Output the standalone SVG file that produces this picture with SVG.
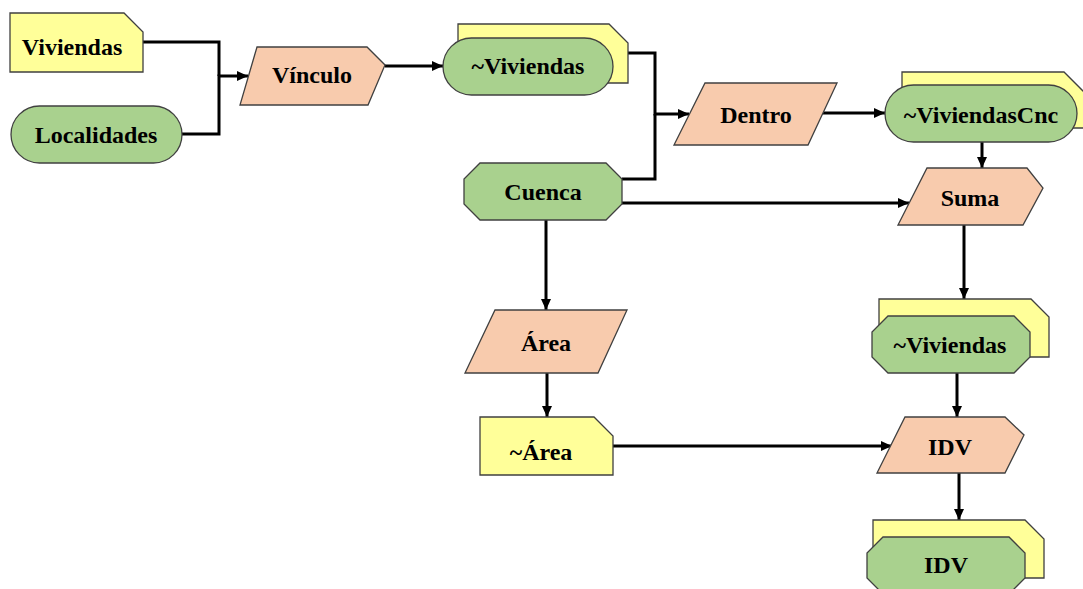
<svg xmlns="http://www.w3.org/2000/svg" width="1083" height="589" viewBox="0 0 1083 589">
  <style>
    .note { fill: #FFFF99; stroke: #404040; stroke-width: 1.3; }
    .data { fill: #A9D18E; stroke: #404040; stroke-width: 1.3; }
    .proc { fill: #F8CBAD; stroke: #404040; stroke-width: 1.3; }
    .lbl { font-family: "Liberation Serif", "Times New Roman", serif; font-weight: bold; font-size: 24px; fill: #000; text-anchor: middle; }
    .wire { fill: none; stroke: #000; stroke-width: 3; }
  </style>
  <defs>
    <marker id="arrow" markerUnits="userSpaceOnUse" markerWidth="11" markerHeight="10" refX="11" refY="5" orient="auto">
      <path d="M0,0 L11,5 L0,10 z" fill="#000"/>
    </marker>
  </defs>

  <rect width="1083" height="589" fill="#fff"/>

  <!-- connectors -->
  <g id="connectors">
    <path class="wire" d="M143,42 H219 V76"/>
    <path class="wire" d="M182,134 H219 V76 H248" marker-end="url(#arrow)"/>
    <path class="wire" d="M385,66 H443" marker-end="url(#arrow)"/>
    <path class="wire" d="M628,53 H655 V114 H689" marker-end="url(#arrow)"/>
    <path class="wire" d="M622,179 H655 V114"/>
    <path class="wire" d="M622,203 H909" marker-end="url(#arrow)"/>
    <path class="wire" d="M822,113 H885" marker-end="url(#arrow)"/>
    <path class="wire" d="M982,142 V168" marker-end="url(#arrow)"/>
    <path class="wire" d="M964,225 V299" marker-end="url(#arrow)"/>
    <path class="wire" d="M957,373 V417" marker-end="url(#arrow)"/>
    <path class="wire" d="M959,473 V520" marker-end="url(#arrow)"/>
    <path class="wire" d="M546,220 V310" marker-end="url(#arrow)"/>
    <path class="wire" d="M547,373 V417" marker-end="url(#arrow)"/>
    <path class="wire" d="M613,446 H892" marker-end="url(#arrow)"/>
  </g>

  <!-- inputs -->
  <g id="viviendas">
    <polygon class="note" points="10,13 124,13 143,32 143,72 10,72"/>
    <text class="lbl" x="72" y="55">Viviendas</text>
  </g>
  <g id="localidades">
    <rect class="data" x="11" y="106" width="171" height="57" rx="28.5"/>
    <text class="lbl" x="96" y="143">Localidades</text>
  </g>
  <g id="vinculo">
    <polygon class="proc" points="257,47 367,47 385,65 368,105 240,105"/>
    <text class="lbl" x="312" y="83">Vínculo</text>
  </g>
  <g id="viviendas-vinc">
    <polygon class="note" points="458,24 609,24 628,43 628,83 458,83"/>
    <rect class="data" x="443" y="38" width="170" height="57" rx="28.5"/>
    <text class="lbl" x="528" y="74">~Viviendas</text>
  </g>
  <g id="cuenca">
    <polygon class="data" points="480,163 606,163 622,179 622,204 606,220 480,220 464,204 464,179"/>
    <text class="lbl" x="543" y="200">Cuenca</text>
  </g>
  <g id="dentro">
    <polygon class="proc" points="705,83 837,83 808,145 674,145"/>
    <text class="lbl" x="756" y="123">Dentro</text>
  </g>
  <g id="viviendas-cnc">
    <polygon class="note" points="902,72 1064,72 1084,92 1084,128 902,128"/>
    <rect class="data" x="885" y="85" width="192" height="57" rx="28.5"/>
    <text class="lbl" x="981" y="123">~ViviendasCnc</text>
  </g>
  <g id="suma">
    <polygon class="proc" points="927,168 1027,168 1043,188 1023,225 898,225"/>
    <text class="lbl" x="970" y="206">Suma</text>
  </g>
  <g id="viviendas-suma">
    <polygon class="note" points="879,299 1031,299 1049,317 1049,357 879,357"/>
    <polygon class="data" points="888,316 1014,316 1030,332 1030,357 1014,373 888,373 872,357 872,332"/>
    <text class="lbl" x="950" y="353">~Viviendas</text>
  </g>
  <g id="area">
    <polygon class="proc" points="495,310 627,310 598,373 465,373"/>
    <text class="lbl" x="546" y="351">Área</text>
  </g>
  <g id="area-out">
    <polygon class="note" points="480,417 594,417 613,436 613,475 480,475"/>
    <text class="lbl" x="541" y="460">~Área</text>
  </g>
  <g id="idv">
    <polygon class="proc" points="905,417 1005,417 1024,435 1005,473 877,473"/>
    <text class="lbl" x="950" y="455">IDV</text>
  </g>
  <g id="idv-out">
    <polygon class="note" points="873,520 1025,520 1044,539 1044,578 873,578"/>
    <polygon class="data" points="883,537 1009,537 1025,553 1025,578 1009,594 883,594 867,578 867,553"/>
    <text class="lbl" x="946" y="573">IDV</text>
  </g>
</svg>
